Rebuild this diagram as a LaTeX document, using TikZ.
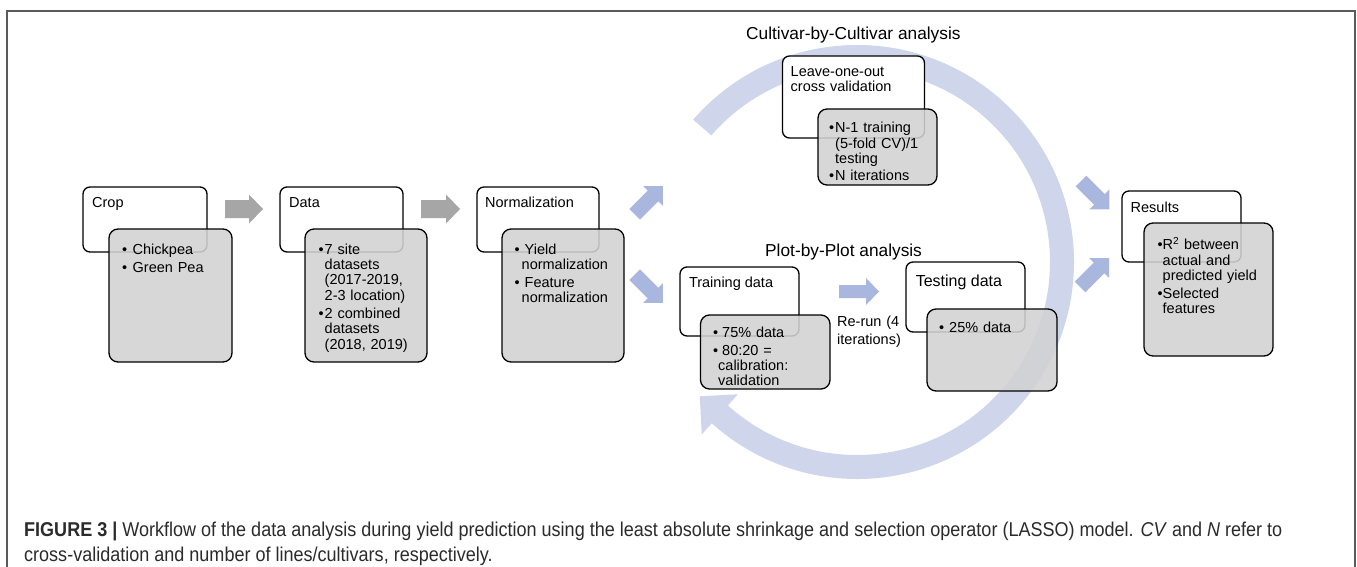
\documentclass[tikz,border=0pt]{standalone}
\usepackage{fontspec}
\setmainfont{Liberation Sans}
\usepackage{graphicx}
\definecolor{arcblue}{HTML}{CFD6EB}
\definecolor{arrblue}{HTML}{A9B6DD}
\definecolor{arrgray}{HTML}{A6A6A6}
\definecolor{boxgray}{HTML}{D2D2D2}
\definecolor{framec}{HTML}{5A5A5A}
\definecolor{captxt}{HTML}{2B2B2B}
\newcommand{\bl}[1]{\makebox[#1][l]{•}}
\tikzset{
  wbox/.style={draw=black, line width=1.3pt, fill=white, rounded corners=7pt, inner sep=0pt, outer sep=0pt, anchor=north west},
  gbox/.style={draw=black, line width=1.3pt, fill=boxgray, fill opacity=0.88, rounded corners=9pt, inner sep=0pt, outer sep=0pt, anchor=north west},
  ttl/.style={inner sep=0pt, font=\fontsize{14.5}{15.3}\selectfont, anchor=base west},
  lst/.style={inner sep=0pt, font=\fontsize{14.5}{15.3}\selectfont, anchor=north west, align=left, text width=160pt},
  head/.style={inner sep=0pt, font=\fontsize{17.3}{20}\selectfont, anchor=base west},
  pics/barrow/.style n args={5}{code={
    \fill[#5] (0,-#1) -- (#4-#3,-#1) -- (#4-#3,-#2) -- (#4,0) -- (#4-#3,#2) -- (#4-#3,#1) -- (0,#1) -- cycle;}}
}
\begin{document}
\begin{tikzpicture}[x=1pt,y=-1pt]
\useasboundingbox (0,0) rectangle (1357,567);
\fill[white] (0,0) rectangle (1357,567);
\draw[framec, line width=1.3pt] (7,567) -- (7,11) -- (1355,11) -- (1355,567);

% circular arrow
\begin{scope}[shift={(857,262)}]
\coordinate (cc) at (0,0);
\fill[arcblue] (-139:217) arc[start angle=-139, end angle=132, radius=217]
  -- (132:232) -- (-157.2,134.3) -- (132:178) -- (132:193)
  arc[start angle=132, end angle=-139, radius=193] -- cycle;
\end{scope}

% title boxes
\node[wbox, minimum width=124pt, minimum height=65pt] (cropT) at (83,187) {};
\node[wbox, minimum width=123pt, minimum height=65pt] (dataT) at (280,187) {};
\node[wbox, minimum width=122pt, minimum height=65pt] (normT) at (477,187) {};
\node[wbox, minimum width=142pt, minimum height=82pt] (leaveT) at (782.5,56) {};
\node[wbox, minimum width=119pt, minimum height=71pt] (resT) at (1122,191) {};
\node[wbox, minimum width=119pt, minimum height=69pt] (trainT) at (680,267) {};
\node[wbox, minimum width=119pt, minimum height=70pt] (testT) at (906,262) {};

% gray boxes
\node[gbox, minimum width=123pt, minimum height=133pt] (cropG) at (109,229) {};
\node[gbox, minimum width=122pt, minimum height=133pt] (dataG) at (305,229) {};
\node[gbox, minimum width=122pt, minimum height=133pt] (normG) at (502,229) {};
\node[gbox, minimum width=119pt, minimum height=76pt] (leaveG) at (818,109) {};
\node[gbox, minimum width=129pt, minimum height=133pt] (resG) at (1144,223) {};
\node[gbox, minimum width=129.5pt, minimum height=74pt] (trainG) at (700.5,315) {};
\node[gbox, minimum width=130pt, minimum height=82pt] (testG) at (927,309) {};

% titles
\node[ttl] (cropL) at (92,207) {Crop};
\node[ttl] (dataL) at (289,207) {Data};
\node[ttl] (normL) at (485,207) {Normalization};
\node[lst] (leaveL) at (790.5,65.3) {\strut Leave-one-out\\cross validation};
\node[ttl] (resL) at (1130.5,212) {Results};
\node[ttl] (trainL) at (688.8,287.5) {Training data};
\node[ttl, font=\fontsize{16}{18}\selectfont] (testL) at (915.6,286) {Testing data};
\node[lst, font=\fontsize{14.5}{18}\selectfont] (rerun) at (837,313.4) {\strut Re-run (4\\iterations)};
\node[head] (cultL) at (746,40) {Cultivar-by-Cultivar analysis};
\node[head] (plotL) at (765,256) {Plot-by-Plot analysis};

% lists
\node[lst] (cropI) at (122,243.3) {\strut\bl{10.5pt}Chickpea\\[2.7pt]\bl{10.5pt}Green Pea};
\node[lst] (dataI) at (318.5,243.3) {\strut\bl{6pt}7 site\\\hspace*{6pt}datasets\\\hspace*{6pt}(2017-2019,\\\hspace*{6pt}2-3 location)\\[3.2pt]\bl{6pt}2 combined\\\hspace*{6pt}datasets\\\hspace*{6pt}(2018, 2019)};
\node[lst] (normI) at (514.5,243.3) {\strut\bl{10pt}Yield\\\hspace*{7pt}normalization\\[2.7pt]\bl{10pt}Feature\\\hspace*{7pt}normalization};
\node[lst] (leaveI) at (829,121.8) {\strut\bl{6pt}N-1 training\\\hspace*{6pt}(5-fold CV)/1\\\hspace*{6pt}testing\\[2.2pt]\bl{6pt}N iterations};
\node[lst] (resI) at (1157.5,237.3) {\strut\bl{5pt}R\textsuperscript{2} between\\\hspace*{5pt}actual and\\\hspace*{5pt}predicted yield\\[2.7pt]\bl{5pt}Selected\\\hspace*{5pt}features};
\node[lst] (trainI) at (713,326.8) {\strut\bl{9pt}75\% data\\[2.2pt]\bl{9pt}80:20 =\\\hspace*{5pt}calibration:\\\hspace*{5pt}validation};
\node[lst] (testI) at (939,321.3) {\strut\bl{10pt}25\% data};

% gray arrows
\pic at (225,209) {barrow={9}{14.5}{14}{38}{arrgray}};
\pic at (421,209) {barrow={9}{14.5}{14}{39}{arrgray}};
% blue arrows
\pic[rotate=45] at (634.7,214.3) {barrow={7.5}{14}{14}{40}{arrblue}};
\pic[rotate=-45] at (634.7,274.7) {barrow={7.5}{14}{14}{40}{arrblue}};
\pic[rotate=-45] at (1081,181) {barrow={7.5}{14}{14}{40}{arrblue}};
\pic[rotate=45] at (1080,287) {barrow={7.5}{14}{14}{41}{arrblue}};
\pic at (839,291.5) {barrow={6.5}{13.5}{13}{40}{arrblue}};

% caption
\node[anchor=base west, inner sep=0pt, text=captxt] (cap) at (24,536)
  {\resizebox{1258pt}{\height}{\fontsize{20}{25}\selectfont\begin{tabular}[t]{@{}l@{}}\textbf{FIGURE 3 |} Workflow of the data analysis during yield prediction using the least absolute shrinkage and selection operator (LASSO) model. \textit{CV} and \textit{N} refer to\\cross-validation and number of lines/cultivars, respectively.\end{tabular}}};
\end{tikzpicture}
\end{document}
